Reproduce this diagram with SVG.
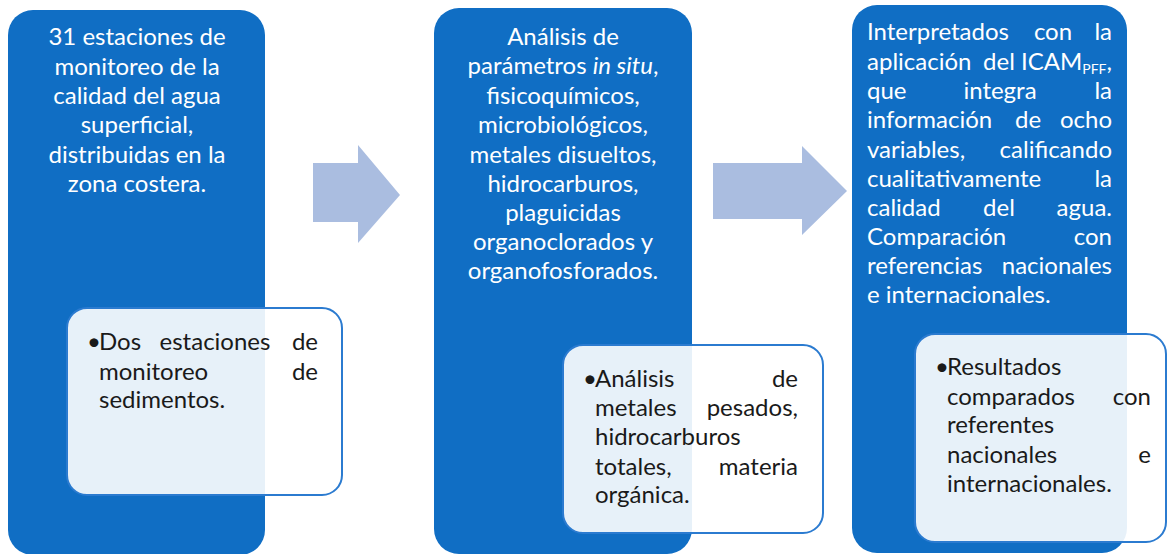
<svg xmlns="http://www.w3.org/2000/svg" width="1167" height="554" viewBox="0 0 1167 554">
<style>
.blue{fill:#106ec4}
.card{fill:#ffffff;fill-opacity:0.9;stroke:#2b7bd0;stroke-width:2}
.arrow{fill:#aabde0}
.w{font-family:Lato,"Liberation Sans",sans-serif;font-size:24px;fill:#ffffff}
.k{font-family:Lato,"Liberation Sans",sans-serif;font-size:24px;fill:#1a1a1a}
.c{text-anchor:middle}
.e{text-anchor:end}
</style>
<rect width="1167" height="554" fill="#ffffff"/>
<g id="connectors">
<polygon class="arrow" points="313,163 358,163 358,145 400,195 358,243 358,222 313,222"/>
<polygon class="arrow" points="713,163 802,163 802,146 847,191 802,235 802,219 713,219"/>
</g>
<g id="node1">
<rect class="blue" x="8" y="10" width="257" height="545" rx="25"/>
<text class="w c" x="137" y="45">31 estaciones de</text>
<text class="w c" x="137" y="74.5">monitoreo de la</text>
<text class="w c" x="137" y="104">calidad del agua</text>
<text class="w c" x="137" y="133">superficial,</text>
<text class="w c" x="137" y="162.5">distribuidas en la</text>
<text class="w c" x="137" y="192">zona costera.</text>
</g>
<g id="node1-detail">
<rect class="card" x="67" y="308" width="275" height="187" rx="20"/>
<text class="k" x="87" y="350">•</text>
<text class="k" x="99" y="350">Dos</text>
<text class="k c" x="215" y="350">estaciones</text>
<text class="k e" x="318" y="350">de</text>
<text class="k" x="99" y="380">monitoreo</text>
<text class="k e" x="318" y="380">de</text>
<text class="k" x="99" y="408">sedimentos.</text>
</g>
<g id="node2">
<rect class="blue" x="434" y="8" width="258" height="546" rx="25"/>
<text class="w c" x="563" y="45">Análisis de</text>
<text class="w c" x="563" y="74">parámetros <tspan font-style="italic">in situ</tspan>,</text>
<text class="w c" x="563" y="104">fisicoquímicos,</text>
<text class="w c" x="563" y="133">microbiológicos,</text>
<text class="w c" x="563" y="163">metales disueltos,</text>
<text class="w c" x="563" y="192">hidrocarburos,</text>
<text class="w c" x="563" y="221">plaguicidas</text>
<text class="w c" x="563" y="250">organoclorados y</text>
<text class="w c" x="563" y="279">organofosforados.</text>
</g>
<g id="node2-detail">
<rect class="card" x="563" y="345" width="260" height="188" rx="20"/>
<text class="k" x="583" y="387">•</text>
<text class="k" x="595" y="387">Análisis</text>
<text class="k e" x="798" y="387">de</text>
<text class="k" x="595" y="416">metales</text>
<text class="k e" x="798" y="416">pesados,</text>
<text class="k" x="595" y="445">hidrocarburos</text>
<text class="k" x="595" y="475">totales,</text>
<text class="k e" x="798" y="475">materia</text>
<text class="k" x="595" y="503">orgánica.</text>
</g>
<g id="node3">
<rect class="blue" x="852" y="5" width="275" height="548" rx="25"/>
<text class="w" x="867" y="40">Interpretados</text>
<text class="w c" x="1053" y="40">con</text>
<text class="w e" x="1112" y="40">la</text>
<text class="w" x="867" y="69.5">aplicación</text>
<text class="w e" x="1112" y="69.5">del ICAM<tspan font-size="14" dy="4">PFF</tspan><tspan dy="-4">,</tspan></text>
<text class="w" x="867" y="99">que</text>
<text class="w c" x="1000" y="99">integra</text>
<text class="w e" x="1112" y="99">la</text>
<text class="w" x="867" y="128">información</text>
<text class="w c" x="1028" y="128">de</text>
<text class="w e" x="1112" y="128">ocho</text>
<text class="w" x="867" y="157.5">variables,</text>
<text class="w e" x="1112" y="157.5">calificando</text>
<text class="w" x="867" y="187">cualitativamente</text>
<text class="w e" x="1112" y="187">la</text>
<text class="w" x="867" y="216">calidad</text>
<text class="w c" x="999" y="216">del</text>
<text class="w e" x="1112" y="216">agua.</text>
<text class="w" x="867" y="245">Comparación</text>
<text class="w e" x="1112" y="245">con</text>
<text class="w" x="867" y="274">referencias</text>
<text class="w e" x="1112" y="274">nacionales</text>
<text class="w" x="867" y="303">e internacionales.</text>
</g>
<g id="node3-detail">
<rect class="card" x="915" y="334" width="251" height="208" rx="20"/>
<text class="k" x="935" y="375">•</text>
<text class="k" x="947" y="375">Resultados</text>
<text class="k" x="947" y="405">comparados</text>
<text class="k e" x="1151" y="405">con</text>
<text class="k" x="947" y="433">referentes</text>
<text class="k" x="947" y="463">nacionales</text>
<text class="k e" x="1151" y="463">e</text>
<text class="k" x="947" y="492">internacionales.</text>
</g>
</svg>
